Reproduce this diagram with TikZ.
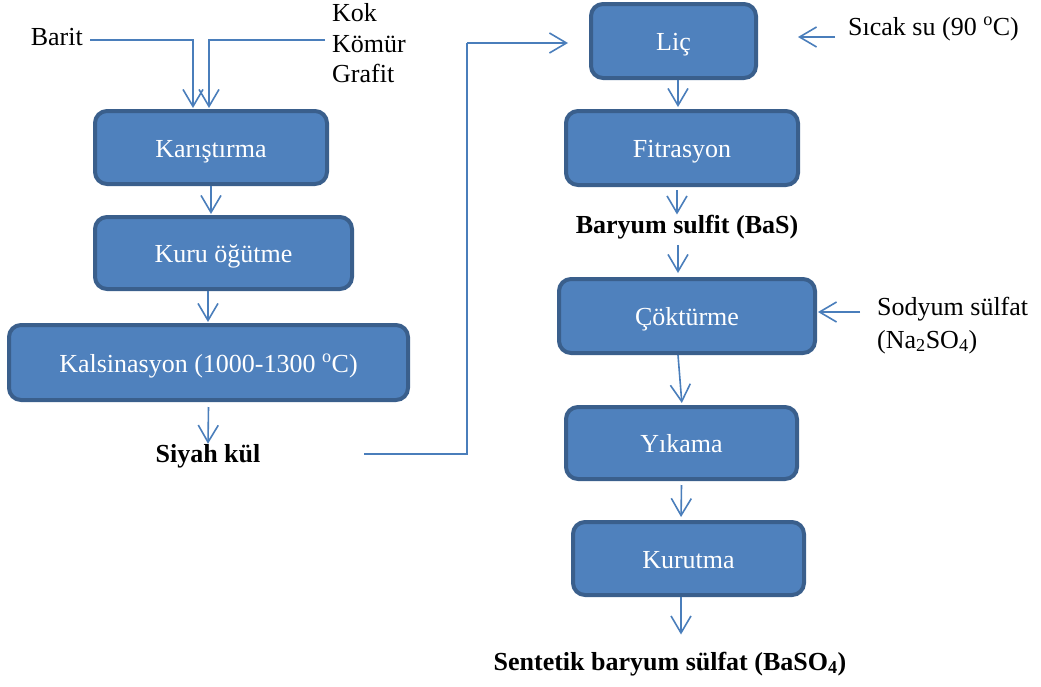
\documentclass[tikz,border=0pt]{standalone}
\usepackage{fontspec}
\setmainfont{Liberation Serif}
\usetikzlibrary{arrows.meta}
\definecolor{boxfill}{HTML}{4F81BD}
\definecolor{boxline}{HTML}{3A5F8C}
\definecolor{flowblue}{HTML}{4A7EBB}
\tikzset{
  proc/.style={draw=boxline, fill=boxfill, line width=4pt, rounded corners=12pt,
    text=white, font=\fontsize{26}{30}\selectfont, inner sep=0pt,
    text height=19pt, text depth=0pt},
  lbl/.style={inner sep=0pt, font=\fontsize{26}{30}\selectfont},
  blbl/.style={inner sep=0pt, font=\fontsize{26}{30}\selectfont\bfseries},
  flow/.style={draw=flowblue, line width=1.6pt,
    -{Straight Barb[length=17pt,width=20pt,line width=1.6pt]}},
  plain/.style={draw=flowblue, line width=1.6pt}
}
\begin{document}
\begin{tikzpicture}[x=1pt,y=-1pt]
\useasboundingbox (0,0) rectangle (1041,686);

% process boxes, left column
\node[proc, minimum width=232pt, minimum height=73pt] (mix)   at (211,147.5) {Karıştırma};
\node[proc, minimum width=257pt, minimum height=72pt] (grind) at (223.5,253) {Kuru öğütme};
\node[proc, minimum width=399pt, minimum height=75pt] (calc)  at (208.5,362.5) {Kalsinasyon (1000-1300 \textsuperscript{o}C)};

% process boxes, right column
\node[proc, minimum width=165pt, minimum height=74pt] (leach) at (673.5,41) {Liç};
\node[proc, minimum width=232pt, minimum height=74pt] (filt)  at (682,148) {Fitrasyon};
\node[proc, minimum width=256pt, minimum height=74pt] (prec)  at (687,316) {Çöktürme};
\node[proc, minimum width=231pt, minimum height=72pt] (wash)  at (681.5,443) {Yıkama};
\node[proc, minimum width=231pt, minimum height=73pt] (dry)   at (688.5,558.5) {Kurutma};

% raw materials
\node[lbl, anchor=base east] (barit) at (83,45) {Barit};
\node[lbl, anchor=base west] (kok)   at (332,21) {Kok};
\node[lbl, anchor=base west] (komur) at (332,52) {Kömür};
\node[lbl, anchor=base west] (grafit) at (332,82) {Grafit};
\coordinate (inA) at (90,40);
\coordinate (inB) at (325,40);

% intermediate and final products
\node[blbl, anchor=base] (sk)    at (208,462) {Siyah kül};
\node[blbl, anchor=base] (bas)   at (687,233) {Baryum sulfit (BaS)};
\node[blbl, anchor=base] (final) at (670,670) {Sentetik baryum sülfat (BaSO\textsubscript{4})};

% additional feeds
\node[lbl, anchor=base west] (hw) at (848,35) {Sıcak su (90 \textsuperscript{o}C)};
\coordinate (hwin) at (835,37);
\node[lbl, anchor=base west] (na1) at (877,315) {Sodyum sülfat};
\node[lbl, anchor=base west] (na2) at (877,348) {(Na\textsubscript{2}SO\textsubscript{4})};
\coordinate (nain) at (860,312);
\coordinate (skout) at (364,454);

% feeds into mixing
\draw[flow, shorten >=1pt] (inA) -| ([xshift=-18pt]mix.north);
\draw[flow, shorten >=1pt] (inB) -| ([xshift=-2pt]mix.north);

% left column flow
\draw[flow, shorten >=1pt] (mix.south) -- (mix.south |- grind.north);
\draw[flow, shorten >=1pt] ([xshift=-15.5pt]grind.south) -- ([xshift=-15.5pt]grind.south |- calc.north);
\draw[flow] ([yshift=-5pt]calc.south) -- (sk.north);

% black ash to leaching
\draw[plain] (skout) -- (467,454) -- (467,43);
\draw[flow, shorten >=21pt] (467,43) -- ([yshift=-2pt]leach.west);

% right column flow
\draw[flow, shorten >=40pt] (hwin) -- (hwin -| leach.east);
\draw[flow, shorten >=2pt] ([xshift=4.5pt]leach.south) -- ([xshift=4.5pt]leach.south |- filt.north);
\draw[flow] ([xshift=-5pt,yshift=-3pt]filt.south) -- ([xshift=-5pt]filt.south |- bas.north);
\draw[flow, shorten >=4pt] ([xshift=-9pt,yshift=-6pt]bas.south) -- ([xshift=-9pt]bas.south |- prec.north);
\draw[flow, shorten >=1pt] (nain) -- (nain -| prec.east);
\draw[flow, shorten >=2pt] ([xshift=-9pt]prec.south) -- ([xshift=0.5pt]wash.north);
\draw[flow, shorten >=3pt] ([yshift=-4pt]wash.south) -- ([xshift=-7.5pt]dry.north);
\draw[flow] ([xshift=-7.5pt]dry.south) -- ([xshift=-7.5pt,yshift=17pt]dry.south |- final.north);
\end{tikzpicture}
\end{document}
